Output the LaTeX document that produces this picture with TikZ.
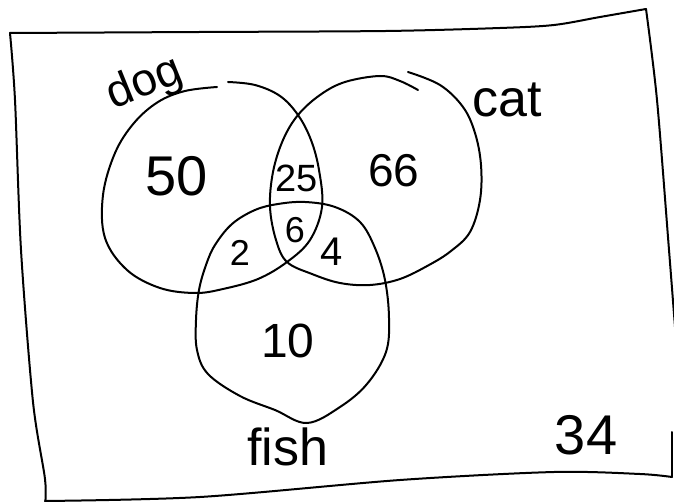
\documentclass[tikz,border=0pt]{standalone}
\usepackage{fontspec}
\setmainfont{Liberation Sans}
\begin{document}
\begin{tikzpicture}[x=1pt,y=-1pt,
  ink/.style={line width=2pt, line join=round, line cap=round},
  lbl/.style={inner sep=0pt, anchor=center}]
\useasboundingbox (0,0) rectangle (674,502);
\fill[white] (0,0) rectangle (674,502);
% frame
\begin{scope}
\clip (0,0) rectangle (674,502);
\draw[ink] plot[smooth, tension=0.5] coordinates {(45,501) (200,497) (400,480) (554,472) (640,474) (672,477)};
\draw[ink] plot[smooth, tension=0.5] coordinates {(10,33) (15,100) (21,250) (33,402) (45,479) (45,505)};
\draw[ink] plot[smooth, tension=0.5] coordinates {(10,33) (200,32) (386,31) (500,28) (554,25) (600,17) (646,9)};
\draw[ink] plot[smooth, tension=0.5] coordinates {(646,9) (657,100) (669,250) (676,340)};
\draw[ink] (672,432) -- (672,477);
\end{scope}
% dog
\draw[ink] plot[smooth, tension=0.6] coordinates {(217,87) (185,91) (158,102) (134,123) (115,153) (103,195) (105,238) (127,270) (160,288) (195,293) (223,289) (258,279) (287,262) (310,240) (322,207) (319,170) (311,140) (298,115) (280,96) (255,85) (228,82)};
% cat
\draw[ink] plot[smooth, tension=0.6] coordinates {(408,72) (440,85) (463,107) (475,133) (481,165) (480,200) (470,232) (451,251) (429,265) (400,279) (370,285) (340,283) (312,274) (287,262) (276,240) (270,207) (273,172) (283,140) (298,115) (320,95) (345,82) (380,76) (400,81) (418,90)};
% fish
\draw[ink] plot[smooth cycle, tension=0.6] coordinates {(305,202) (335,207) (360,222) (375,248) (385,280) (389,318) (386,352) (367,384) (340,407) (307,423) (275,410) (240,396) (208,374) (197,350) (196,320) (199,290) (206,265) (215,245) (232,224) (255,210) (278,204)};
% labels
\node[lbl, rotate=22, font=\fontsize{46}{50}\selectfont] (dog) at (145,84) {dog};
\node[lbl, font=\fontsize{52}{56}\selectfont] (cat) at (507,100) {cat};
\node[lbl, font=\fontsize{52}{56}\selectfont] (fish) at (288,447) {fish};
\node[lbl, font=\fontsize{56}{60}\selectfont] (n50) at (177,176) {50};
\node[lbl, font=\fontsize{46}{50}\selectfont] (n66) at (394,171) {66};
\node[lbl, font=\fontsize{38}{42}\selectfont] (n25) at (297,178) {25};
\node[lbl, font=\fontsize{36}{40}\selectfont] (n6) at (295,230) {6};
\node[lbl, font=\fontsize{36}{40}\selectfont] (n2) at (240,253) {2};
\node[lbl, font=\fontsize{40}{44}\selectfont] (n4) at (332,252) {4};
\node[lbl, font=\fontsize{48}{52}\selectfont] (n10) at (288,341) {10};
\node[lbl, font=\fontsize{56}{60}\selectfont] (n34) at (586,435) {34};
\end{tikzpicture}
\end{document}
